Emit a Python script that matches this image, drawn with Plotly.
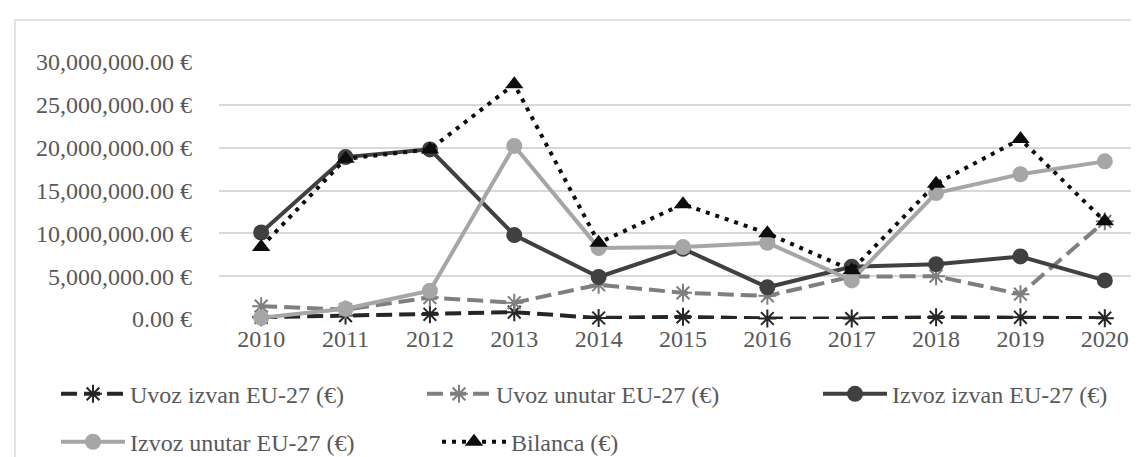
import plotly.graph_objects as go

years = ["2010", "2011", "2012", "2013", "2014", "2015", "2016", "2017", "2018", "2019", "2020"]
uvoz_izvan = [200000, 400000, 550000, 800000, 120000, 250000, 60000, 50000, 200000, 200000, 100000]
uvoz_unutar = [1500000, 1100000, 2500000, 1900000, 4000000, 3050000, 2700000, 4950000, 5000000, 2900000, 11400000]
izvoz_izvan = [10100000, 18900000, 19800000, 9800000, 4900000, 8200000, 3700000, 6100000, 6400000, 7300000, 4500000]
izvoz_unutar = [150000, 1200000, 3300000, 20200000, 8300000, 8400000, 8900000, 4500000, 14700000, 16900000, 18400000]
bilanca = [8400000, 18700000, 19800000, 27400000, 8900000, 13400000, 10000000, 5700000, 15800000, 21000000, 11400000]

names = ["Uvoz izvan EU-27 (€)", "Uvoz unutar EU-27 (€)", "Izvoz izvan EU-27 (€)",
         "Izvoz unutar EU-27 (€)", "Bilanca (€)"]
yticks = [0, 5000000, 10000000, 15000000, 20000000, 25000000, 30000000]
yticktext = [f"{v:,.2f} €" for v in yticks]

FONT = "Liberation Serif"
TXT = "#595959"
FS = 24

L, R, T, B = 211, 0, 54, 140
W, H = 1139, 457
pw, ph = W - L - R, H - T - B

def px_x(x):
    return (x - L) / pw

def px_y(y):
    return (H - B - y) / ph

fig = go.Figure()

series = [
    (uvoz_izvan, dict(color="#262626", width=4, dash="16px,7px"),
     dict(symbol="asterisk-open", size=15, color="#262626", line=dict(color="#262626", width=2))),
    (uvoz_unutar, dict(color="#7f7f7f", width=4, dash="16px,7px"),
     dict(symbol="asterisk-open", size=15, color="#7f7f7f", line=dict(color="#7f7f7f", width=2))),
    (izvoz_izvan, dict(color="#404040", width=4),
     dict(symbol="circle", size=16, color="#404040", line=dict(width=0))),
    (izvoz_unutar, dict(color="#a6a6a6", width=4),
     dict(symbol="circle", size=16, color="#a6a6a6", line=dict(width=0))),
    (bilanca, dict(color="#0d0d0d", width=4, dash="4px,6px"),
     dict(symbol="triangle-up", size=16, color="#0d0d0d", line=dict(width=0))),
]

# legend text start x and row centre y (pixels)
legend_pos = [(133, 394), (499, 394), (895, 394), (133, 443), (514, 443)]
legend_ids = ["legend", "legend2", "legend3", "legend4", "legend5"]

for i, (vals, ln, mk) in enumerate(series):
    fig.add_trace(go.Scatter(
        x=years, y=vals, name=names[i], mode="lines+markers",
        line=ln, marker=mk, cliponaxis=False, legend=legend_ids[i],
    ))

legends = {}
for i, (tx, ty) in enumerate(legend_pos):
    legends[legend_ids[i]] = dict(
        x=px_x(tx - 85), y=px_y(ty), xanchor="left", yanchor="middle",
        orientation="h", font=dict(family=FONT, size=FS, color=TXT),
        bgcolor="rgba(0,0,0,0)", itemwidth=64, tracegroupgap=0,
    )

fig.update_layout(
    width=W, height=H,
    margin=dict(l=L, r=R, t=T, b=B),
    paper_bgcolor="white", plot_bgcolor="white",
    font=dict(family=FONT, size=FS, color=TXT),
    showlegend=True,
    **legends,
    xaxis=dict(
        type="category", range=[-0.5, 10.5], showgrid=False, zeroline=False,
        showline=False, ticks="", tickfont=dict(family=FONT, size=FS, color=TXT),
        ticklabelstandoff=3,
    ),
    yaxis=dict(
        range=[0, 30000000], tickvals=yticks, ticktext=yticktext, tickmode="array",
        showgrid=True, gridcolor="#d9d9d9", gridwidth=1.5, zeroline=False,
        showline=False, ticks="", tickfont=dict(family=FONT, size=FS, color=TXT),
        ticklabelstandoff=26,
    ),
    shapes=[dict(type="rect", xref="paper", yref="paper",
                 x0=px_x(7), x1=px_x(1160), y0=px_y(480), y1=px_y(11),
                 line=dict(color="#d9d9d9", width=1.5), fillcolor="rgba(0,0,0,0)",
                 layer="below")],
)

fig.write_html("out.html")
